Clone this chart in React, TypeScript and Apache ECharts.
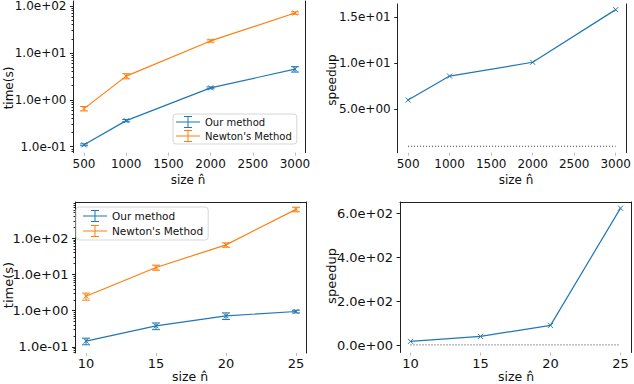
import React, { useEffect, useRef } from "react";
import * as echarts from "echarts";

// ---- data ----
const sizesLarge = [500, 1000, 2000, 3000];
const oursLarge = [0.11, 0.36, 1.8, 4.5];
const oursLargeErr = [0.005, 0.02, 0.08, 0.6];
const newtonLarge = [0.65, 3.2, 18, 71];
const newtonLargeErr = [0.07, 0.4, 1, 4];
const speedupLarge = [6.0, 8.6, 10.1, 15.8];

const sizesSmall = [10, 15, 20, 25];
const oursSmall = [0.145, 0.38, 0.72, 0.95];
const oursSmallErr = [0.03, 0.08, 0.15, 0.08];
const newtonSmall = [2.5, 15.5, 65, 620];
const newtonSmallErr = [0.55, 2.5, 9, 90];
const speedupSmall = [17, 40, 90, 625];
const speedupBaseline = 1;

// ---- tick labels ----
const largeXTicks = [500, 1000, 1500, 2000, 2500, 3000];
const smallXTicks = [10, 15, 20, 25];
const timeTicks = [0.1, 1, 10, 100];
const speedupTicksLarge = [5, 10, 15];
const speedupTicksSmall = [0, 200, 400, 600];

const seriesNames = ["Our method", "Newton's Method"];
const BLUE = "#1f77b4";
const ORANGE = "#ff7f0e";
const FONT = "DejaVu Sans";
const INK = "#111";

const fmtSci = (n: number) => {
  const s = n.toExponential(1);
  const [m, e] = s.split("e");
  const sign = e[0] === "-" ? "-" : "+";
  const digits = e.replace(/^[+-]/, "").padStart(2, "0");
  return `${m}e${sign}${digits}`;
};

const lg = (v: number) => Math.log10(v);

const minorLogTicks = (min: number, max: number) => {
  const out: number[] = [];
  for (let d = -3; d <= 4; d++) {
    for (let k = 2; k <= 9; k++) {
      const v = Math.log10(k * Math.pow(10, d));
      if (v >= min && v <= max) out.push(v);
    }
  }
  return out;
};

const CROSS = "path://M0,0L10,10M10,0L0,10";
const LEGEND_ICON =
  "path://M0,5.4H24V6.6H0Z M11.5,0H12.5V12H11.5Z M8,0H16V1H8Z M8,11H16V12H8Z";

function lineSeries(name: string, xs: number[], ys: number[], color: string, xi: number, yi: number, log: boolean) {
  return {
    type: "line",
    name,
    xAxisIndex: xi,
    yAxisIndex: yi,
    data: xs.map((x, i) => [x, log ? lg(ys[i]) : ys[i]]),
    symbol: CROSS,
    symbolSize: 5,
    showSymbol: true,
    lineStyle: { color, width: 1.2 },
    itemStyle: { color, borderColor: color, borderWidth: 1 },
    z: 4,
  };
}

function errSeries(xs: number[], ys: number[], errs: number[], color: string, xi: number, yi: number, cap: number) {
  return {
    type: "custom",
    xAxisIndex: xi,
    yAxisIndex: yi,
    silent: true,
    data: xs.map((x, i) => [x, lg(ys[i] - errs[i]), lg(ys[i] + errs[i])]),
    encode: { x: 0, y: [1, 2] },
    renderItem: (_params: any, api: any) => {
      const x = api.value(0);
      const lo = api.coord([x, api.value(1)]);
      const hi = api.coord([x, api.value(2)]);
      const style = { stroke: color, lineWidth: 1, fill: null };
      return {
        type: "group",
        children: [
          { type: "line", shape: { x1: lo[0], y1: lo[1], x2: hi[0], y2: hi[1] }, style },
          { type: "line", shape: { x1: lo[0] - cap, y1: lo[1], x2: lo[0] + cap, y2: lo[1] }, style },
          { type: "line", shape: { x1: hi[0] - cap, y1: hi[1], x2: hi[0] + cap, y2: hi[1] }, style },
        ],
      };
    },
    z: 3,
  };
}

function baselineSeries(xs: number[], xi: number, yi: number) {
  return {
    type: "line",
    xAxisIndex: xi,
    yAxisIndex: yi,
    silent: true,
    symbol: "none",
    data: [
      [xs[0], speedupBaseline],
      [xs[xs.length - 1], speedupBaseline],
    ],
    lineStyle: { color: "#333", width: 1, type: [1, 2] },
    z: 2,
  };
}

const spine = { show: true, onZero: false, lineStyle: { color: "#222", width: 1 } };

function xMain(gridIndex: number, min: number, max: number, ticks: number[], fontSize: number, margin: number) {
  return {
    type: "value",
    gridIndex,
    min,
    max,
    axisLine: { show: false, onZero: false },
    axisTick: { show: true, length: 3, lineStyle: { color: "#bbb" }, customValues: ticks },
    axisLabel: {
      customValues: ticks,
      fontSize,
      margin,
      color: INK,
      fontFamily: FONT,
      formatter: (v: number) => String(v),
    },
    splitLine: { show: false },
  };
}

function spineAxis(gridIndex: number, position: string, min: number, max: number) {
  return {
    type: "value",
    gridIndex,
    position,
    min,
    max,
    axisLine: spine,
    axisTick: { show: false },
    axisLabel: { show: false },
    splitLine: { show: false },
  };
}

function yMain(gridIndex: number, min: number, max: number, ticks: number[], fontSize: number, formatter: (v: number) => string) {
  return {
    type: "value",
    gridIndex,
    position: "left",
    min,
    max,
    axisLine: spine,
    axisTick: { show: true, length: 3.5, lineStyle: { color: "#222" }, customValues: ticks },
    axisLabel: { customValues: ticks, fontSize, margin: 7, color: INK, fontFamily: FONT, formatter },
    splitLine: { show: false },
  };
}

function yMinor(gridIndex: number, min: number, max: number) {
  return {
    type: "value",
    gridIndex,
    position: "left",
    min,
    max,
    axisLine: { show: false, onZero: false },
    axisTick: { show: true, length: 2, lineStyle: { color: "#222" }, customValues: minorLogTicks(min, max) },
    axisLabel: { show: false },
    splitLine: { show: false },
  };
}

function legendItems() {
  return [
    { name: seriesNames[0], icon: LEGEND_ICON, itemStyle: { color: BLUE, borderWidth: 0 } },
    { name: seriesNames[1], icon: LEGEND_ICON, itemStyle: { color: ORANGE, borderWidth: 0 } },
  ];
}

export default function App() {
  const ref = useRef<HTMLDivElement>(null);
  useEffect(() => {
    if (!ref.current) return;
    const chart = echarts.init(ref.current, null, { renderer: "svg" });

    const tl = { min: -1.127, max: 2.106 };
    const bl = { min: -1.166, max: 2.995 };
    const tr = { min: 0.3, max: 16.41 };
    const br = { min: -33.7, max: 653 };
    const lx = { min: 375, max: 3125 };
    const sx = { min: 9.25, max: 25.75 };

    const logFmt = (v: number) => fmtSci(Math.pow(10, v));
    const linFmt = (v: number) => fmtSci(v);

    const option: any = {
      animation: false,
      textStyle: { fontFamily: FONT },
      grid: [
        { left: 73.5, top: 0, width: 232, height: 152.7 },
        { left: 397.7, top: 4, width: 232, height: 148.7 },
        { left: 75.5, top: 202, width: 231, height: 151 },
        { left: 400, top: 202, width: 231, height: 150.5 },
      ],
      xAxis: [
        xMain(0, lx.min, lx.max, largeXTicks, 12, 5), // 0
        xMain(1, lx.min, lx.max, largeXTicks, 12, 5), // 1
        xMain(2, sx.min, sx.max, smallXTicks, 13, 4), // 2
        spineAxis(2, "top", sx.min, sx.max), // 3
        xMain(3, sx.min, sx.max, smallXTicks, 13, 4), // 4
        spineAxis(3, "top", sx.min, sx.max), // 5
      ],
      yAxis: [
        yMain(0, tl.min, tl.max, timeTicks.map(lg), 12, logFmt), // 0
        yMinor(0, tl.min, tl.max), // 1
        spineAxis(0, "right", tl.min, tl.max), // 2
        yMain(1, tr.min, tr.max, speedupTicksLarge, 12, linFmt), // 3
        spineAxis(1, "right", tr.min, tr.max), // 4
        yMain(2, bl.min, bl.max, timeTicks.map(lg), 13, logFmt), // 5
        yMinor(2, bl.min, bl.max), // 6
        spineAxis(2, "right", bl.min, bl.max), // 7
        yMain(3, br.min, br.max, speedupTicksSmall, 13, linFmt), // 8
        spineAxis(3, "right", br.min, br.max), // 9
      ],
      legend: [
        {
          left: 173,
          top: 114,
          orient: "vertical",
          selectedMode: false,
          padding: [2, 5, 2, 3],
          itemGap: 2,
          itemWidth: 24,
          itemHeight: 12,
          borderColor: "#d6d6d6",
          borderWidth: 1,
          borderRadius: 3,
          backgroundColor: "rgba(255,255,255,0.85)",
          textStyle: { fontSize: 10, color: INK, fontFamily: FONT },
          data: legendItems(),
        },
        {
          left: 76,
          top: 207,
          orient: "vertical",
          selectedMode: false,
          padding: [3, 5, 3, 7],
          itemGap: 3,
          itemWidth: 24,
          itemHeight: 12,
          borderColor: "#d6d6d6",
          borderWidth: 1,
          borderRadius: 3,
          backgroundColor: "rgba(255,255,255,0.85)",
          textStyle: { fontSize: 10.5, color: INK, fontFamily: FONT },
          data: legendItems(),
        },
      ],
      series: [
        lineSeries(seriesNames[0], sizesLarge, oursLarge, BLUE, 0, 0, true),
        errSeries(sizesLarge, oursLarge, oursLargeErr, BLUE, 0, 0, 4),
        lineSeries(seriesNames[1], sizesLarge, newtonLarge, ORANGE, 0, 0, true),
        errSeries(sizesLarge, newtonLarge, newtonLargeErr, ORANGE, 0, 0, 4),
        baselineSeries(sizesLarge, 1, 3),
        lineSeries("speedup", sizesLarge, speedupLarge, BLUE, 1, 3, false),
        lineSeries(seriesNames[0], sizesSmall, oursSmall, BLUE, 2, 5, true),
        errSeries(sizesSmall, oursSmall, oursSmallErr, BLUE, 2, 5, 4),
        lineSeries(seriesNames[1], sizesSmall, newtonSmall, ORANGE, 2, 5, true),
        errSeries(sizesSmall, newtonSmall, newtonSmallErr, ORANGE, 2, 5, 4),
        baselineSeries(sizesSmall, 4, 8),
        lineSeries("speedup ", sizesSmall, speedupSmall, BLUE, 4, 8, false),
      ],
      graphic: [
        { type: "text", x: 9, y: 88, rotation: Math.PI / 2, style: { text: "time(s)", fontSize: 12, fontFamily: FONT, fill: INK, align: "center", verticalAlign: "middle" } },
        { type: "text", x: 8, y: 285, rotation: Math.PI / 2, style: { text: "time(s)", fontSize: 13, fontFamily: FONT, fill: INK, align: "center", verticalAlign: "middle" } },
        { type: "text", x: 332, y: 80, rotation: Math.PI / 2, style: { text: "speedup", fontSize: 12, fontFamily: FONT, fill: INK, align: "center", verticalAlign: "middle" } },
        { type: "text", x: 331.5, y: 276, rotation: Math.PI / 2, style: { text: "speedup", fontSize: 13, fontFamily: FONT, fill: INK, align: "center", verticalAlign: "middle" } },
        { type: "text", x: 188, y: 180, style: { text: "size n\u0302", fontSize: 12, fontFamily: FONT, fill: INK, align: "center", verticalAlign: "middle" } },
        { type: "text", x: 516, y: 180, style: { text: "size n\u0302", fontSize: 12, fontFamily: FONT, fill: INK, align: "center", verticalAlign: "middle" } },
        { type: "text", x: 190, y: 376.5, style: { text: "size n\u0302", fontSize: 12.5, fontFamily: FONT, fill: INK, align: "center", verticalAlign: "middle" } },
        { type: "text", x: 516, y: 376.5, style: { text: "size n\u0302", fontSize: 12.5, fontFamily: FONT, fill: INK, align: "center", verticalAlign: "middle" } },
      ],
    };

    chart.setOption(option);
    return () => chart.dispose();
  }, []);

  return (
    <div
      ref={ref}
      style={{ position: "absolute", left: 0, top: 0, width: 634, height: 384, background: "#fff" }}
    />
  );
}
